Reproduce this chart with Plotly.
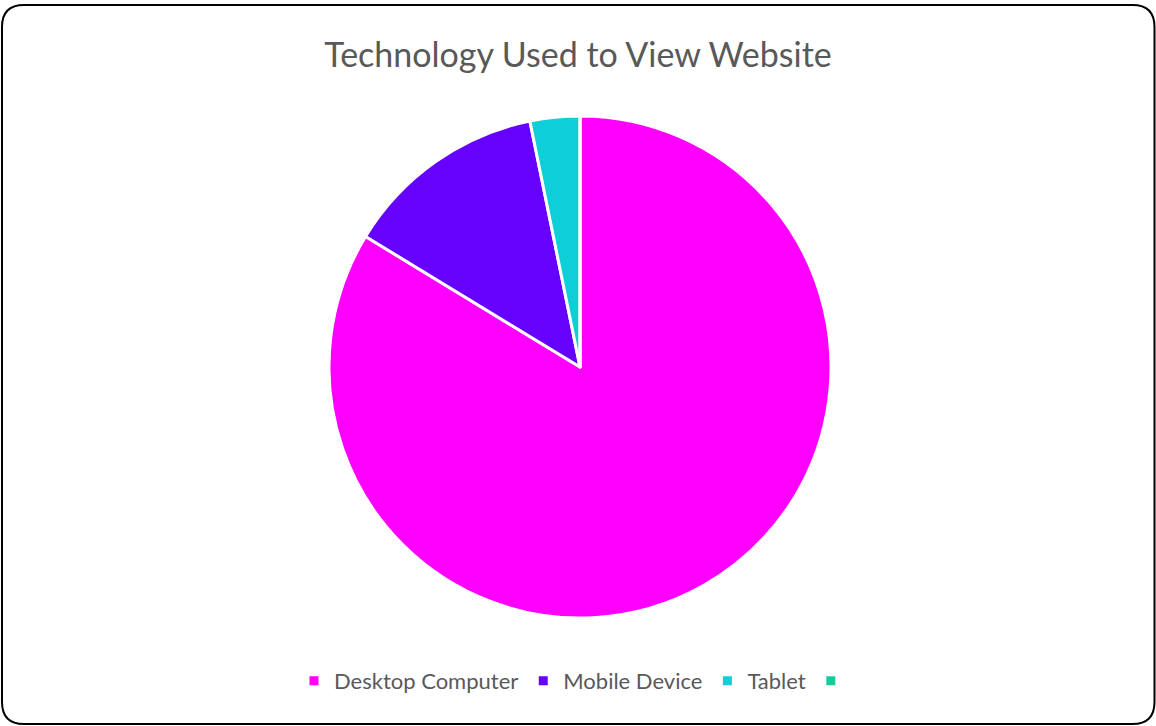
import plotly.graph_objects as go

# ── Data ──────────────────────────────────────────────────────────────────────
devices = ["Desktop Computer", "Mobile Device", "Tablet", " "]
shares = [83.7, 13.1, 3.2, 0]
colors = ["#FF00FF", "#6600FF", "#0ECFD8", "#12CC99"]

W, H = 1156, 726


def px_x(x):
    return x / W


def px_y(y):
    return 1 - y / H


fig = go.Figure()
fig.add_trace(go.Pie(
    labels=devices, values=shares,
    marker=dict(colors=colors, line=dict(color="white", width=3)),
    sort=False, direction="clockwise", rotation=0,
    textinfo="none", hoverinfo="label+percent",
    domain=dict(x=[px_x(329), px_x(831)], y=[px_y(618), px_y(116)]),
))

# rounded frame around the chart
l, r, t, b, rad = px_x(2), px_x(1154.5), px_y(5), px_y(724), 22
rx, ry = rad / W, rad / H
frame = (
    f"M {l + rx},{t} L {r - rx},{t} Q {r},{t} {r},{t - ry} "
    f"L {r},{b + ry} Q {r},{b} {r - rx},{b} "
    f"L {l + rx},{b} Q {l},{b} {l},{b + ry} "
    f"L {l},{t - ry} Q {l},{t} {l + rx},{t} Z"
)

fig.update_layout(
    width=W, height=H,
    margin=dict(l=0, r=0, t=0, b=0),
    paper_bgcolor="white",
    font=dict(family="Lato, Open Sans, sans-serif", color="#595959"),
    title=dict(
        text="Technology Used to View Website",
        x=0.5, xanchor="center", y=px_y(55), yanchor="middle",
        font=dict(size=34, color="#595959"),
    ),
    legend=dict(
        orientation="h", x=0.5, xanchor="center",
        y=px_y(681), yanchor="middle",
        font=dict(size=22, color="#595959"),
        itemwidth=30, traceorder="normal",
    ),
    shapes=[dict(
        type="path", path=frame, xref="paper", yref="paper",
        line=dict(color="black", width=2),
    )],
)

# drop the default page margin so the figure sits at the window corner
fig.write_html(
    "out.html",
    config={"displayModeBar": False},
    post_script="document.body.style.margin='0';",
)
